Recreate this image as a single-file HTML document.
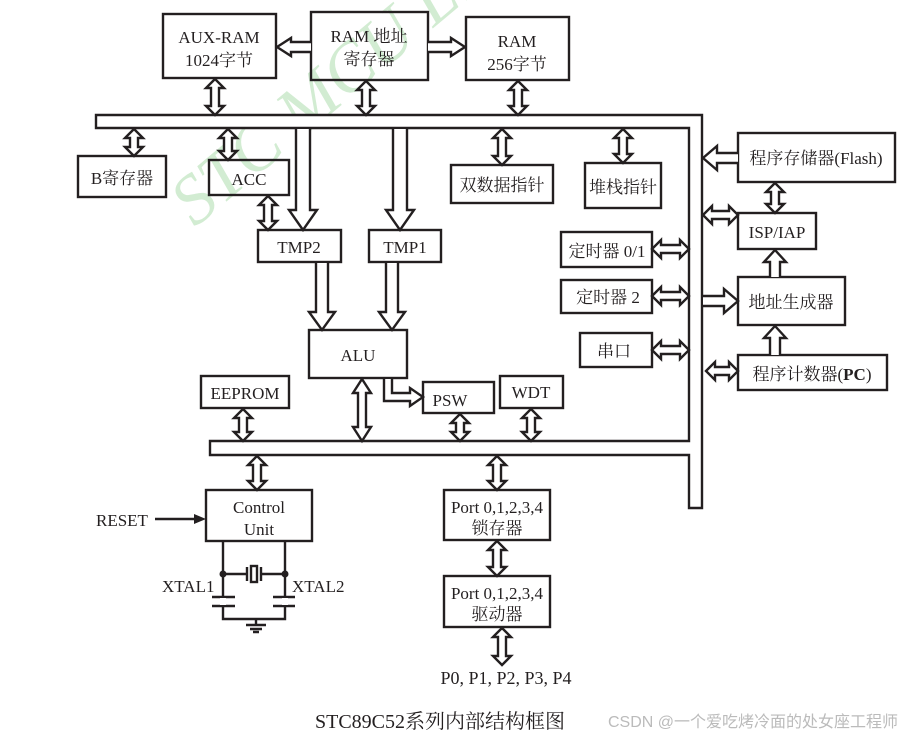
<!DOCTYPE html>
<html><head><meta charset="utf-8">
<style>
html,body{margin:0;padding:0;background:#fff;}
svg{display:block;}
text{font-family:"Liberation Serif","Noto Serif CJK SC",serif;fill:#231f20;font-size:17px;}
</style></head>
<body>
<svg id="s" width="914" height="740" viewBox="0 0 914 740" xmlns="http://www.w3.org/2000/svg">
<text x="195" y="228" transform="rotate(-40 195 228)" style="font-size:70px;font-style:italic;fill:#d2ecd2;stroke:none">STC  MCU  Limited</text>
<g fill="none" stroke="#231f20" stroke-width="2.4">
<path d="M96,115 H702 V508 H689 V455 H210 V441 H689 V128 H96 Z" fill="#fff"/>
<rect x="163" y="14" width="113" height="64"/>
<rect x="311" y="12" width="117" height="68"/>
<rect x="466" y="17" width="103" height="63"/>
<rect x="78" y="156" width="88" height="41"/>
<rect x="209" y="160" width="80" height="35"/>
<rect x="451" y="165" width="102" height="38"/>
<rect x="585" y="163" width="76" height="45"/>
<rect x="258" y="230" width="83" height="32"/>
<rect x="369" y="230" width="72" height="32"/>
<rect x="309" y="330" width="98" height="48"/>
<rect x="201" y="376" width="88" height="32"/>
<rect x="423" y="382" width="71" height="31"/>
<rect x="500" y="376" width="63" height="32"/>
<rect x="561" y="232" width="91" height="35"/>
<rect x="561" y="280" width="91" height="33"/>
<rect x="580" y="333" width="72" height="34"/>
<rect x="738" y="133" width="157" height="49"/>
<rect x="738" y="213" width="78" height="36"/>
<rect x="738" y="277" width="107" height="48"/>
<rect x="738" y="355" width="149" height="35"/>
<rect x="206" y="490" width="106" height="51"/>
<rect x="444" y="490" width="106" height="50"/>
<rect x="444" y="576" width="106" height="51"/>
<path d="M223,541 V619 H285 V541 M212,597 H235 M212,606 H235 M273,597 H295 M273,606 H295 M223,574 H247 M285,574 H261 M247,567 V581 M261,567 V581 M256,619 V625 M246,625 H266 M250,629 H262 M253,632 H259" />
<path d="M223,598 V605 M285,598 V605" stroke="#fff" stroke-width="6"/>
<rect x="251" y="566" width="6" height="16"/>
<path d="M155,519 H196"/>
</g>
<g fill="#231f20">
<circle cx="223" cy="574" r="3.5"/><circle cx="285" cy="574" r="3.5"/>
<path d="M206,519 L194,514 L194,524 Z"/>
</g>
<g id="arr" fill="#fff" stroke="#231f20" stroke-width="2.4"></g>
<g>
<text x="219" y="43" text-anchor="middle">AUX-RAM</text>
<text x="219" y="66" text-anchor="middle">1024字节</text>
<text x="369" y="42" text-anchor="middle">RAM 地址</text>
<text x="369" y="65" text-anchor="middle">寄存器</text>
<text x="517" y="47" text-anchor="middle">RAM</text>
<text x="517" y="70" text-anchor="middle">256字节</text>
<text x="122" y="184" text-anchor="middle">B寄存器</text>
<text x="249" y="185" text-anchor="middle">ACC</text>
<text x="502" y="191" text-anchor="middle">双数据指针</text>
<text x="623" y="193" text-anchor="middle">堆栈指针</text>
<text x="299" y="253" text-anchor="middle">TMP2</text>
<text x="405" y="253" text-anchor="middle">TMP1</text>
<text x="358" y="361" text-anchor="middle">ALU</text>
<text x="245" y="399" text-anchor="middle">EEPROM</text>
<text x="450" y="406" text-anchor="middle">PSW</text>
<text x="531" y="398" text-anchor="middle">WDT</text>
<text x="607" y="257" text-anchor="middle">定时器 0/1</text>
<text x="608" y="303" text-anchor="middle">定时器 2</text>
<text x="614" y="357" text-anchor="middle">串口</text>
<text x="816" y="164" text-anchor="middle">程序存储器(Flash)</text>
<text x="777" y="238" text-anchor="middle">ISP/IAP</text>
<text x="791" y="308" text-anchor="middle">地址生成器</text>
<text x="812" y="380" text-anchor="middle">程序计数器(<tspan font-weight="bold">PC</tspan>)</text>
<text x="259" y="513" text-anchor="middle">Control</text>
<text x="259" y="535" text-anchor="middle">Unit</text>
<text x="96" y="526">RESET</text>
<text x="162" y="592">XTAL1</text>
<text x="292" y="592">XTAL2</text>
<text x="497" y="513" text-anchor="middle">Port 0,1,2,3,4</text>
<text x="497" y="534" text-anchor="middle">锁存器</text>
<text x="497" y="599" text-anchor="middle">Port 0,1,2,3,4</text>
<text x="497" y="620" text-anchor="middle">驱动器</text>
<text x="506" y="684" text-anchor="middle" style="font-size:18px">P0, P1, P2, P3, P4</text>
<text x="440" y="728" text-anchor="middle" style="font-size:20px">STC89C52系列内部结构框图</text>
<text x="898" y="727" text-anchor="end" style="font-size:16px;fill:#bbb;font-family:'Liberation Sans','Noto Sans CJK SC',sans-serif">CSDN @一个爱吃烤冷面的处女座工程师</text>
</g>
</svg>
<script>
var g=document.getElementById('arr'),NS="http://www.w3.org/2000/svg";
function P(d){var p=document.createElementNS(NS,'path');p.setAttribute('d',d);g.appendChild(p);}
function VD(x,y1,y2,s,h,l){s=s||4;h=h||9;l=l||9;
P('M'+x+','+y1+' L'+(x+h)+','+(y1+l)+' L'+(x+s)+','+(y1+l)+' L'+(x+s)+','+(y2-l)+' L'+(x+h)+','+(y2-l)+' L'+x+','+y2+' L'+(x-h)+','+(y2-l)+' L'+(x-s)+','+(y2-l)+' L'+(x-s)+','+(y1+l)+' L'+(x-h)+','+(y1+l)+' Z');}
function HD(y,x1,x2,s,h,l){s=s||4;h=h||9;l=l||9;
P('M'+x1+','+y+' L'+(x1+l)+','+(y-h)+' L'+(x1+l)+','+(y-s)+' L'+(x2-l)+','+(y-s)+' L'+(x2-l)+','+(y-h)+' L'+x2+','+y+' L'+(x2-l)+','+(y+h)+' L'+(x2-l)+','+(y+s)+' L'+(x1+l)+','+(y+s)+' L'+(x1+l)+','+(y+h)+' Z');}
function VS(x,y1,y2,s,h,l){var d=y2>y1?1:-1;
P('M'+(x-s)+','+y1+' L'+(x-s)+','+(y2-d*l)+' L'+(x-h)+','+(y2-d*l)+' L'+x+','+y2+' L'+(x+h)+','+(y2-d*l)+' L'+(x+s)+','+(y2-d*l)+' L'+(x+s)+','+y1);}
function HS(y,x1,x2,s,h,l){var d=x2>x1?1:-1;
P('M'+x1+','+(y-s)+' L'+(x2-d*l)+','+(y-s)+' L'+(x2-d*l)+','+(y-h)+' L'+x2+','+y+' L'+(x2-d*l)+','+(y+h)+' L'+(x2-d*l)+','+(y+s)+' L'+x1+','+(y+s));}
VD(215,79,115);VD(366,81,115);VD(518,81,115);
VD(134,129,156);VD(228,129,160);VD(502,129,165);VD(623,129,163);
VD(268,196,230);
VS(303,129,230,7,14,20);VS(400,129,230,7,14,20);
VS(322,263,330,6,13,18);VS(392,263,330,6,13,18);
HS(47,311,277,5,9,14);HS(47,428,465,5,9,14);
VD(243,409,441);VD(362,379,441,4,9,14);VD(460,414,441);VD(531,409,441);
P('M384,379 L384,401 L410,401 L410,406 L423,397 L410,388 L410,393 L392,393 L392,379');
HD(249,652,689);HD(296,652,689);HD(350,652,689);
HS(158,738,703,5,12,14);HD(215,703,738);HS(301,703,738,5,12,14);HD(371,706,738);
VD(775,183,213);VS(775,277,250,5,11,12);VS(775,355,326,5,11,12);
VD(257,456,490);VD(497,456,490);VD(497,541,576);VD(502,628,665);
</script>
</body></html>
